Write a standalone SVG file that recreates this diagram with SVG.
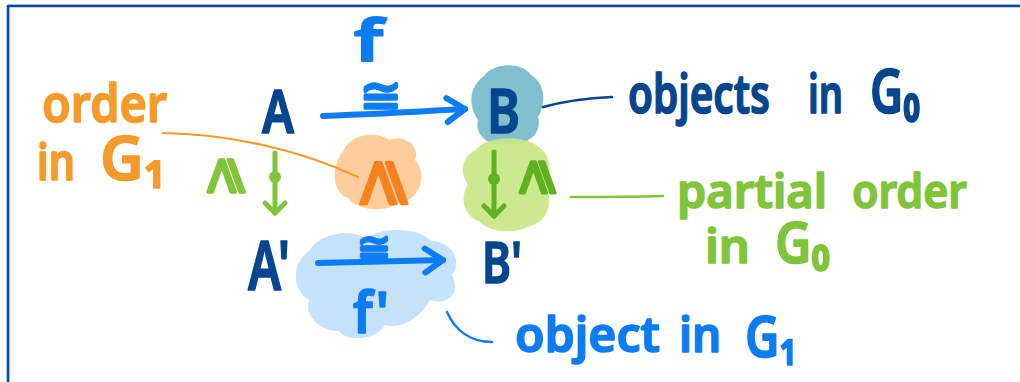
<svg xmlns="http://www.w3.org/2000/svg" width="1020" height="382" viewBox="0 0 1020 382">
  <style>
    .hand { font-family: "Noto Sans", "DejaVu Sans", sans-serif; font-weight: 600; stroke-linejoin: round; stroke-linecap: round; stroke-width: 1.6; }
    .math { font-family: "DejaVu Sans", "Noto Sans", sans-serif; stroke-linejoin: round; stroke-linecap: round; stroke-width: 3; }
    .navy { fill: #05468f; stroke: #05468f; }
    .blue { fill: #0c7cf3; stroke: #0c7cf3; }
    .green { fill: #80c43a; stroke: #80c43a; }
    .dgreen { fill: #5fb11f; stroke: #5fb11f; }
    .orange { fill: #f59b2b; stroke: #f59b2b; }
    .dorange { fill: #f5821f; stroke: #f5821f; }
    .wire { fill: none; stroke-linecap: round; stroke-linejoin: round; }
  </style>
  <defs>
    <marker id="head-blue" markerUnits="userSpaceOnUse" viewBox="-26 -18 30 36" markerWidth="30" markerHeight="36" refX="0" refY="0" orient="auto" overflow="visible">
      <path d="M-18,-12 L0,0 L-18,12" fill="none" stroke="#0c7cf3" stroke-width="6" stroke-linecap="round" stroke-linejoin="round"/>
    </marker>
    <marker id="head-green" markerUnits="userSpaceOnUse" viewBox="-16 -14 20 28" markerWidth="20" markerHeight="28" refX="0" refY="0" orient="auto" overflow="visible">
      <path d="M-10,-10 L0,0 L-10,10" fill="none" stroke="#80c43a" stroke-width="5" stroke-linecap="round" stroke-linejoin="round"/>
    </marker>
    <marker id="head-dgreen" markerUnits="userSpaceOnUse" viewBox="-16 -14 20 28" markerWidth="20" markerHeight="28" refX="0" refY="0" orient="auto" overflow="visible">
      <path d="M-10,-10 L0,0 L-10,10" fill="none" stroke="#5fb11f" stroke-width="5" stroke-linecap="round" stroke-linejoin="round"/>
    </marker>
  </defs>

  <rect width="1020" height="382" fill="#ffffff"/>

  <!-- page frame: top and left edges only -->
  <g id="frame">
    <line x1="8" y1="4.5" x2="1020" y2="4.5" stroke="#c9d9ef" stroke-width="1"/>
    <line x1="10" y1="6" x2="10" y2="382" stroke="#c9d9ef" stroke-width="1"/>
    <line x1="8" y1="6" x2="1020" y2="6" stroke="#0a4a9a" stroke-width="2.6"/>
    <line x1="8" y1="5" x2="8" y2="382" stroke="#0a4a9a" stroke-width="2.6"/>
  </g>

  <!-- highlight blobs -->
  <g id="blob-B">
    <path d="M484,76 C494,62 522,62 531,75 C546,84 546,104 538,117 C543,134 526,147 506,143 C489,148 474,134 478,120 C467,104 470,86 484,76 Z" fill="#80bfce"/>
  </g>
  <g id="blob-Bprime-order">
    <path d="M476,150 C484,136 524,134 539,147 C552,157 552,174 545,185 C554,198 549,222 530,226 C514,235 489,232 480,222 C462,215 460,196 468,185 C458,170 463,156 476,150 Z" fill="#c9e785" fill-opacity="0.92"/>
  </g>
  <g id="blob-order">
    <path d="M344,150 C350,135 375,130 390,140 C405,134 421,147 415,160 C428,172 421,200 401,202 C385,214 356,210 348,198 C331,192 331,165 344,150 Z" fill="#fecd9b"/>
  </g>
  <g id="blob-fprime">
    <path d="M309,251 C319,233 350,228 365,238 C385,226 420,228 431,241 C452,241 463,262 452,275 C462,295 446,306 430,300 C420,318 400,330 385,325 C375,342 345,341 339,331 C319,331 304,315 309,300 C291,290 292,262 309,251 Z" fill="#c6e2fb"/>
  </g>

  <!-- connectors -->
  <g id="connectors">
    <path class="wire" d="M163,133 C230,134 300,150 358,177" stroke="#f39a2c" stroke-width="2.2"/>
    <path class="wire" d="M543,107 C565,101 590,98 612,97" stroke="#05468f" stroke-width="2.5"/>
    <path class="wire" d="M571,197 C600,197 635,197 663,196" stroke="#80c43a" stroke-width="2.5"/>
    <path class="wire" d="M447,312 C455,330 470,342 492,342" stroke="#0c7cf3" stroke-width="2.5"/>
    <!-- f : A -> B -->
    <path class="wire" d="M323,116 C380,114 430,111 465,109" stroke="#0c7cf3" stroke-width="6" marker-end="url(#head-blue)"/>
    <!-- f' : A' -> B' -->
    <path class="wire" d="M318,263 C360,262 410,261 443,260" stroke="#0c7cf3" stroke-width="6" marker-end="url(#head-blue)"/>
    <!-- A >= A' -->
    <path class="wire" d="M275,153 L275,213" stroke="#80c43a" stroke-width="5" marker-end="url(#head-green)"/>
    <circle cx="275" cy="177" r="6" fill="#80c43a"/>
    <!-- B >= B' -->
    <path class="wire" d="M494,152 L494,216" stroke="#5fb11f" stroke-width="5" marker-end="url(#head-dgreen)"/>
    <circle cx="494" cy="179" r="6" fill="#5fb11f"/>
  </g>

  <!-- objects -->
  <g id="node-A">
    <text class="hand navy" x="262" y="133" font-size="60" textLength="32" lengthAdjust="spacingAndGlyphs">A</text>
  </g>
  <g id="node-B">
    <text class="hand navy" x="487" y="133" font-size="62" textLength="33" lengthAdjust="spacingAndGlyphs">B</text>
  </g>
  <g id="node-Aprime">
    <text class="hand navy" x="248" y="290" font-size="68" textLength="42" lengthAdjust="spacingAndGlyphs">A'</text>
  </g>
  <g id="node-Bprime">
    <text class="hand navy" x="482" y="283" font-size="58" textLength="40" lengthAdjust="spacingAndGlyphs">B'</text>
  </g>

  <!-- morphism labels -->
  <g id="label-f">
    <text class="hand blue" transform="translate(354,61) scale(1,1.15)" font-size="50" textLength="29" lengthAdjust="spacingAndGlyphs">f</text>
    <text class="math blue" x="381" y="113" font-size="50" text-anchor="middle">≅</text>
  </g>
  <g id="label-fprime">
    <text class="math blue" x="374" y="261" font-size="40" text-anchor="middle">≅</text>
    <text class="hand blue" x="353" y="333" font-size="57" textLength="36" lengthAdjust="spacingAndGlyphs">f'</text>
  </g>

  <!-- order symbols -->
  <g id="order-A">
    <text class="math green" transform="translate(221,176) rotate(-90)" y="17" font-size="52" text-anchor="middle">⩾</text>
  </g>
  <g id="order-B">
    <text class="math dgreen" transform="translate(533,177) rotate(-90)" y="16" font-size="50" text-anchor="middle">⩾</text>
  </g>
  <g id="order-f">
    <text class="math dorange" transform="translate(377,183) rotate(-90)" y="22" font-size="66" text-anchor="middle">⩾</text>
  </g>

  <!-- annotations -->
  <g id="note-order-G1">
    <text class="hand orange" x="42" y="122" font-size="52" textLength="125" lengthAdjust="spacingAndGlyphs">order</text>
    <text class="hand orange" x="37" y="180" font-size="50" textLength="38" lengthAdjust="spacingAndGlyphs">in</text>
    <text class="hand orange" x="100" y="180" font-size="62" textLength="66" lengthAdjust="spacingAndGlyphs">G₁</text>
  </g>
  <g id="note-objects-G0">
    <text class="hand navy" x="628" y="113" font-size="54" textLength="142" lengthAdjust="spacingAndGlyphs">objects</text>
    <text class="hand navy" x="808" y="113" font-size="54" textLength="35" lengthAdjust="spacingAndGlyphs">in</text>
    <text class="hand navy" x="870" y="113" font-size="62" textLength="50" lengthAdjust="spacingAndGlyphs">G₀</text>
  </g>
  <g id="note-partial-order-G0">
    <text class="hand green" x="677" y="208" font-size="46" textLength="150" lengthAdjust="spacingAndGlyphs">partial</text>
    <text class="hand green" x="852" y="208" font-size="46" textLength="115" lengthAdjust="spacingAndGlyphs">order</text>
    <text class="hand green" x="705" y="263" font-size="46" textLength="45" lengthAdjust="spacingAndGlyphs">in</text>
    <text class="hand green" x="775" y="263" font-size="58" textLength="55" lengthAdjust="spacingAndGlyphs">G₀</text>
  </g>
  <g id="note-object-G1">
    <text class="hand blue" x="515" y="352" font-size="48" textLength="145" lengthAdjust="spacingAndGlyphs">object</text>
    <text class="hand blue" x="679" y="352" font-size="48" textLength="42" lengthAdjust="spacingAndGlyphs">in</text>
    <text class="hand blue" x="745" y="357" font-size="58" textLength="52" lengthAdjust="spacingAndGlyphs">G₁</text>
  </g>
</svg>
